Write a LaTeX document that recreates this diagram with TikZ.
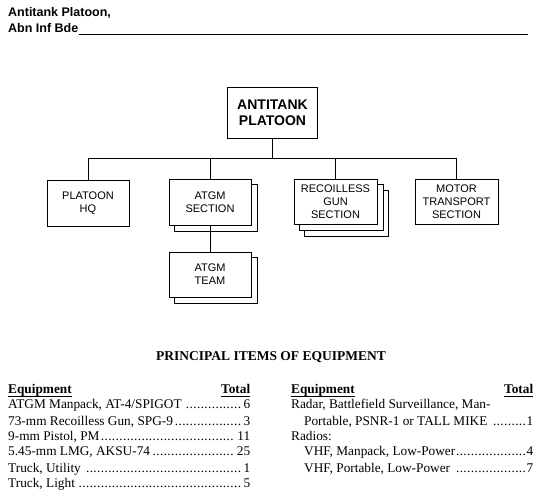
\documentclass[tikz,border=0pt]{standalone}
\usepackage{fontspec}
\setmainfont{Liberation Serif}
\newfontfamily\hv{Liberation Sans}
\usetikzlibrary{backgrounds}
\newcommand\dotlead{\leaders\hbox to 3.7pt{\hss.\hss}\hfill}
\newcommand\myul[1]{\leavevmode\setbox0\hbox{#1}\rlap{\vrule width\wd0 height -2pt depth 3pt}\box0}
\tikzset{
  orgbox/.style={draw, fill=white, line width=0.9pt, inner sep=0pt, align=center,
    font=\hv\fontsize{11}{13}\selectfont},
  topbox/.style={orgbox, font=\hv\bfseries\fontsize{14}{16}\selectfont},
  shadowbox/.style={draw, fill=white, line width=0.9pt},
  conn/.style={line width=0.9pt},
  hdr/.style={inner sep=0pt, font=\hv\bfseries\fontsize{12.5}{15}\selectfont},
  txt/.style={inner sep=0pt, anchor=base west, font=\fontsize{13.3}{15.7}\selectfont},
  ttl/.style={inner sep=0pt, anchor=base, font=\bfseries\fontsize{13.5}{16}\selectfont}
}
\begin{document}
\begin{tikzpicture}[x=1pt,y=-1pt]
\useasboundingbox (0,0) rectangle (550,500);

% header
\node[hdr, anchor=base west] (h1) at (8,17) {Antitank Platoon,};
\node[hdr, anchor=base west] (h2) at (8,33) {Abn Inf Bde};
\coordinate (ulend) at (528,34);
\draw[line width=0.8pt] ([yshift=-1pt]h2.base east) -- (ulend);

% org chart
\node[topbox, minimum width=90pt, minimum height=51pt] (top) at (272.5,113) {ANTITANK\\PLATOON};
\node[orgbox, minimum width=82pt, minimum height=46pt] (hq) at (88,203) {PLATOON\\HQ};
\node[orgbox, minimum width=82pt, minimum height=46pt] (atgmsec) at (210,202) {ATGM\\SECTION};
\node[orgbox, minimum width=82pt, minimum height=45pt] (atgmteam) at (210,274.5) {ATGM\\TEAM};
\node[orgbox, minimum width=83pt, minimum height=45pt] (rcl) at (335.5,201.5) {RECOILLESS\\GUN\\SECTION};
\node[orgbox, minimum width=83pt, minimum height=45pt] (mt) at (456.5,201.5) {MOTOR\\TRANSPORT\\SECTION};

\begin{scope}[on background layer]
  \draw[shadowbox] ([shift={(6,6)}]atgmsec.north west) rectangle ([shift={(6,6)}]atgmsec.south east);
  \draw[shadowbox] ([shift={(6,6)}]atgmteam.north west) rectangle ([shift={(6,6)}]atgmteam.south east);
  \draw[shadowbox] ([shift={(11,12)}]rcl.north west) rectangle ([shift={(11,12)}]rcl.south east);
  \draw[shadowbox] ([shift={(5.5,6)}]rcl.north west) rectangle ([shift={(5.5,6)}]rcl.south east);
\end{scope}

\coordinate (busL) at (88,158);
\coordinate (busR) at (457,158);
\draw[conn] (top.south) -- (top.south |- busL);
\draw[conn] (busL) -- (busR);
\draw[conn] (hq.north |- busL) -- (hq.north);
\draw[conn] (atgmsec.north |- busL) -- (atgmsec.north);
\draw[conn] (rcl.north |- busL) -- (rcl.north);
\draw[conn] (mt.north |- busL) -- (mt.north);
\draw[conn] (atgmsec.south) -- (atgmteam.north);

% equipment table
\node[ttl] (title) at (271,361) {PRINCIPAL ITEMS OF EQUIPMENT};

\node[txt] (lh) at (8,394) {\hbox to 242pt{\bfseries\myul{Equipment}\hfill\myul{Total}}};
\node[txt] (l1) at (8,409) {\hbox to 242pt{ATGM Manpack, AT-4/SPIGOT \dotlead 6}};
\node[txt] (l2) at (8,425) {\hbox to 242pt{73-mm Recoilless Gun, SPG-9\dotlead 3}};
\node[txt] (l3) at (8,441) {\hbox to 242pt{9-mm Pistol, PM\dotlead 11}};
\node[txt] (l4) at (8,456) {\hbox to 242pt{5.45-mm LMG, AKSU-74\dotlead 25}};
\node[txt] (l5) at (8,472) {\hbox to 242pt{Truck, Utility \dotlead 1}};
\node[txt] (l6) at (8,487) {\hbox to 242pt{Truck, Light \dotlead 5}};

\node[txt] (rh) at (291,394) {\hbox to 242pt{\bfseries\myul{Equipment}\hfill\myul{Total}}};
\node[txt] (r1) at (291,409) {Radar, Battlefield Surveillance, Man-};
\node[txt] (r2) at (304,425) {\hbox to 229pt{Portable, PSNR-1 or TALL MIKE \dotlead 1}};
\node[txt] (r3) at (291,441) {Radios:};
\node[txt] (r4) at (304,456) {\hbox to 229pt{VHF, Manpack, Low-Power\dotlead 4}};
\node[txt] (r5) at (304,472) {\hbox to 229pt{VHF, Portable, Low-Power \dotlead 7}};
\end{tikzpicture}
\end{document}
